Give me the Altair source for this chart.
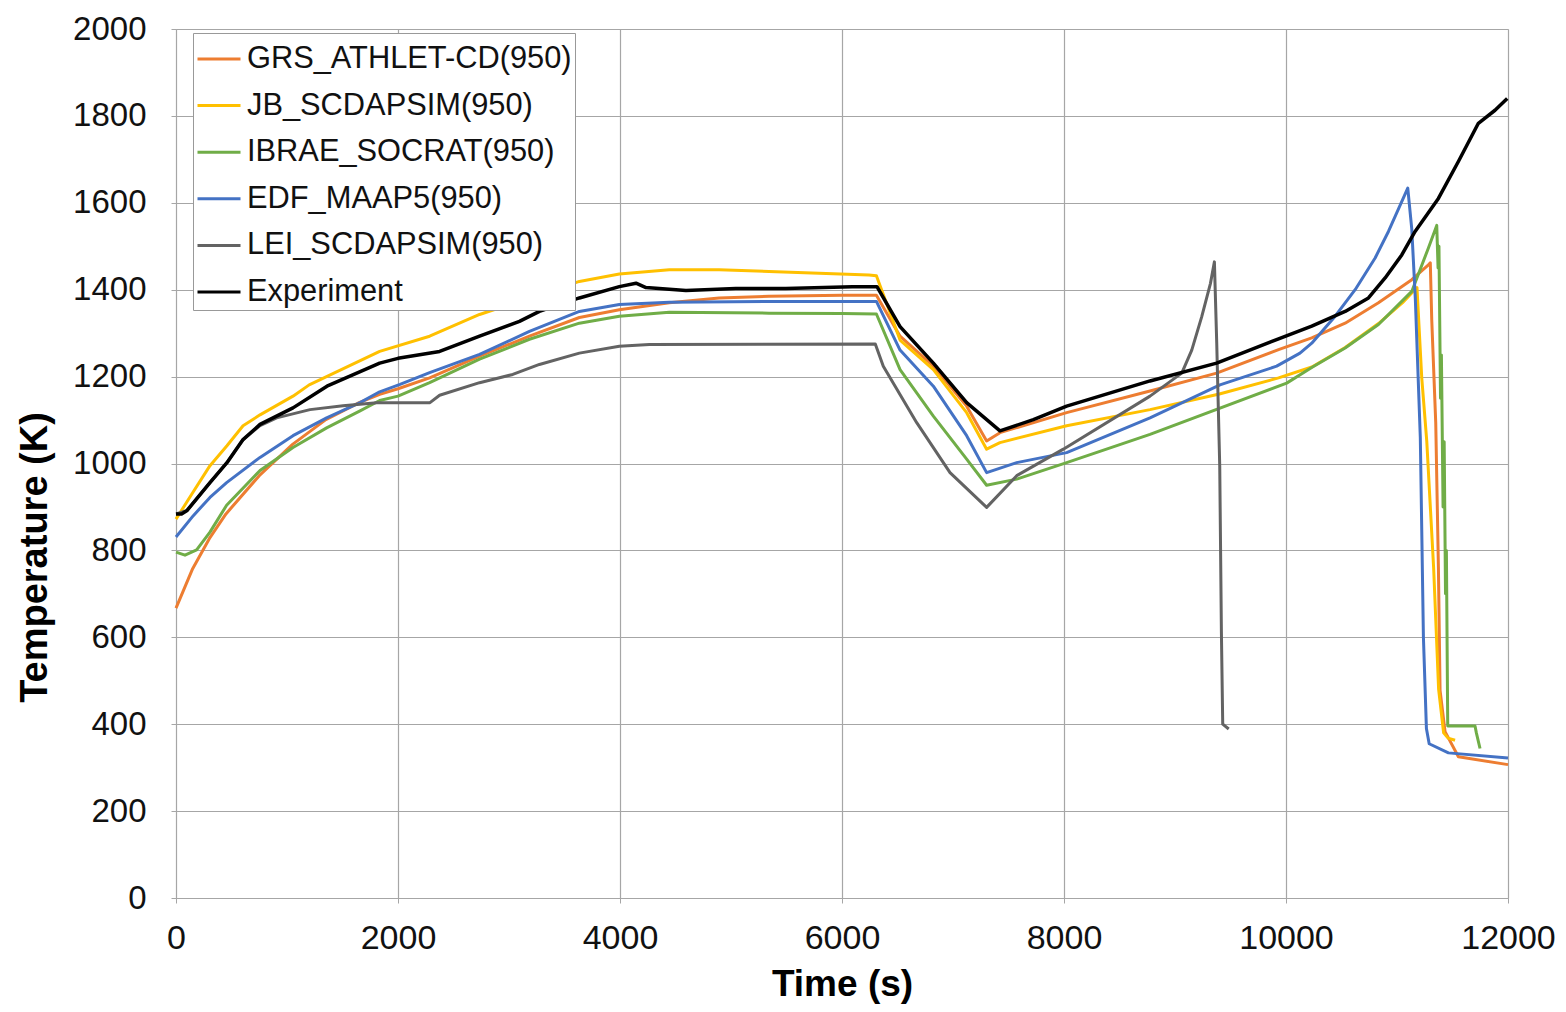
import altair as alt
import pandas as pd

# ---------------- data ----------------
grs_t = [0, 150, 300, 450, 750, 1050, 1350, 1650, 1835, 2000, 2285, 2735, 3184, 3634, 3994, 4444,
         4893, 5343, 6000, 6310, 6523, 6823, 7123, 7303, 7423, 8024, 8775, 9375, 9933, 10232,
         10533, 10833, 11133, 11283, 11300, 11313, 11349, 11373, 11388, 11433, 11553, 12000]
grs_v = [667, 758, 827, 884, 972, 1044, 1101, 1140, 1159, 1172, 1197, 1247, 1293, 1336, 1354, 1370,
         1381, 1385, 1387, 1387, 1293, 1224, 1132, 1052, 1071, 1117, 1167, 1208, 1262, 1289,
         1323, 1370, 1423, 1457, 1462, 1331, 1094, 762, 478, 383, 325, 307]

jb_t = [0, 153, 306, 459, 604, 757, 1054, 1200, 1835, 2285, 2735, 3634, 3994, 4444, 4893, 5343,
        5793, 6243, 6310, 6523, 6823, 7123, 7303, 7423, 8024, 8775, 9400, 9933, 10233, 10533,
        10833, 11050, 11180, 11223, 11268, 11330, 11375, 11420, 11460, 11523]
jb_v = [872, 934, 995, 1041, 1087, 1112, 1155, 1181, 1258, 1293, 1343, 1419, 1436, 1446, 1446, 1442,
        1438, 1434, 1432, 1284, 1216, 1117, 1033, 1048, 1087, 1124, 1160, 1197, 1222, 1267,
        1322, 1370, 1405, 1197, 1052, 760, 480, 380, 368, 363]

ibrae_t = [0, 81, 186, 306, 456, 757, 1054, 1357, 1658, 1835, 2000, 2285, 2735, 3184, 3634, 3994,
           4444, 5343, 6000, 6310, 6523, 6823, 7123, 7303, 7574, 8024, 8775, 10006, 10232, 10533,
           10833, 11133, 11283, 11358, 11370, 11378, 11392, 11400, 11415, 11425, 11437, 11445,
           11457, 11703, 11715, 11748]
ibrae_v = [796, 789, 801, 842, 904, 984, 1037, 1082, 1121, 1145, 1155, 1186, 1240, 1286, 1323, 1339,
           1348, 1346, 1345, 1344, 1216, 1109, 1010, 950, 964, 1002, 1067, 1185, 1221, 1266,
           1320, 1396, 1496, 1548, 1450, 1500, 1150, 1250, 900, 1050, 700, 800,
           396, 396, 380, 344]

edf_t = [0, 156, 306, 456, 757, 1054, 1357, 1658, 1835, 2018, 2285, 2735, 3184, 3634, 3994, 4444,
         5343, 6310, 6523, 6823, 7123, 7303, 7574, 8024, 8775, 9405, 9916, 10126, 10232, 10443,
         10623, 10803, 10923, 11097, 11133, 11165, 11210, 11238, 11265, 11290, 11463, 12000]
edf_v = [831, 880, 922, 956, 1014, 1064, 1105, 1140, 1165, 1182, 1209, 1251, 1304, 1350, 1366, 1371,
         1373, 1373, 1261, 1178, 1064, 979, 1002, 1025, 1105, 1181, 1224, 1254, 1277, 1339,
         1400, 1473, 1534, 1634, 1540, 1380, 1060, 600, 390, 355, 334, 322]

lei_t = [0, 100, 306, 459, 604, 757, 907, 1207, 1505, 1808, 2288, 2375, 2735, 3034, 3274, 3634,
         3994, 4264, 6300, 6372, 6673, 6973, 7303, 7574, 7994, 8775, 9061, 9151, 9241, 9319,
         9355, 9376, 9403, 9418, 9430, 9484]
lei_v = [884, 892, 956, 1002, 1055, 1087, 1105, 1124, 1133, 1140, 1140, 1157, 1186, 1205, 1228, 1254,
         1270, 1274, 1275, 1224, 1094, 979, 899, 972, 1033, 1155, 1208, 1261, 1338, 1414,
         1464, 1277, 995, 613, 400, 389]

exp_t = [0, 50, 100, 306, 459, 604, 757, 1054, 1360, 1835, 2000, 2375, 2735, 3094, 3274, 3634,
         3994, 4144, 4234, 4594, 5043, 5493, 6093, 6315, 6523, 6823, 7123, 7423, 7724, 8024,
         8775, 9375, 9933, 10232, 10533, 10743, 10893, 11043, 11163, 11373, 11553, 11733,
         11883, 11993]
exp_v = [884, 884, 892, 956, 1002, 1055, 1090, 1128, 1178, 1231, 1242, 1258, 1293, 1327, 1350, 1381,
         1407, 1415, 1405, 1398, 1403, 1403, 1407, 1407, 1315, 1231, 1140, 1075, 1101, 1132,
         1190, 1231, 1287, 1316, 1350, 1381, 1427, 1480, 1534, 1610, 1695, 1783,
         1813, 1840]

series_names = ["GRS_ATHLET-CD(950)", "JB_SCDAPSIM(950)", "IBRAE_SOCRAT(950)",
                "EDF_MAAP5(950)", "LEI_SCDAPSIM(950)", "Experiment"]
series_colors = ["#ED7D31", "#FFC000", "#70AD47", "#4472C4", "#636363", "#000000"]
x_ticks = [0, 2000, 4000, 6000, 8000, 10000, 12000]
y_ticks = [0, 200, 400, 600, 800, 1000, 1200, 1400, 1600, 1800, 2000]

# ---------------- table ----------------
rows = []
for name, ts, vs in zip(series_names,
                        [grs_t, jb_t, ibrae_t, edf_t, lei_t, exp_t],
                        [grs_v, jb_v, ibrae_v, edf_v, lei_v, exp_v]):
    for i, (t, v) in enumerate(zip(ts, vs)):
        rows.append({"series": name, "time": t, "temp": v, "idx": i})
df = pd.DataFrame(rows)

FONT = "Liberation Sans"
GRID = "#A6A6A6"

color = alt.Color(
    "series:N",
    scale=alt.Scale(domain=series_names, range=series_colors),
    legend=alt.Legend(
        title=None, orient="none", legendX=17, legendY=4,
        symbolType="stroke", symbolSize=1849, symbolStrokeWidth=3,
        labelFont=FONT, labelFontSize=30.8, labelColor="#111111", labelLimit=0,
        labelOffset=5, rowPadding=8.6, padding=3,
        fillColor="#FFFFFF", strokeColor="#999999",
    ),
)

x = alt.X("time:Q", scale=alt.Scale(domain=[0, 12000], nice=False),
          axis=alt.Axis(values=x_ticks, title="Time (s)", format="d",
                        labelFont=FONT, labelFontSize=34, labelColor="#111111",
                        labelPadding=18, tickSize=5, tickColor=GRID,
                        domainColor=GRID, gridColor=GRID, gridWidth=1.2,
                        titleFont=FONT, titleFontSize=37, titleFontWeight="bold",
                        titleColor="#000000", titleBaseline="alphabetic", titleY=97,
                        labelFlush=False))
y = alt.Y("temp:Q", scale=alt.Scale(domain=[0, 2000], nice=False),
          axis=alt.Axis(values=y_ticks, title="Temperature (K)", format="d",
                        labelFont=FONT, labelFontSize=33, labelColor="#111111",
                        labelPadding=25, tickSize=5, tickColor=GRID,
                        domainColor=GRID, gridColor=GRID, gridWidth=1.2,
                        titleFont=FONT, titleFontSize=38, titleFontWeight="bold",
                        titleColor="#000000", titleBaseline="alphabetic",
                        titleAngle=270, titleAlign="center", titleX=-130, titleY=528,
                        labelFlush=False))

models = alt.Chart(df[df.series != "Experiment"]).mark_line(
    strokeWidth=3, strokeJoin="round").encode(
    x=x, y=y, color=color, order="idx:Q")
experiment = alt.Chart(df[df.series == "Experiment"]).mark_line(
    strokeWidth=3.5, strokeJoin="round").encode(
    x=x, y=y, color=color, order="idx:Q")

chart = alt.layer(models, experiment).properties(
    width=1332, height=869,
    autosize=alt.AutoSizeParams(type="none"),
    padding={"left": 168, "top": 21, "right": 50, "bottom": 106},
).configure_view(strokeWidth=0).configure(background="#FFFFFF")

chart.save("out.html", embed_options={"renderer": "svg", "actions": False})
